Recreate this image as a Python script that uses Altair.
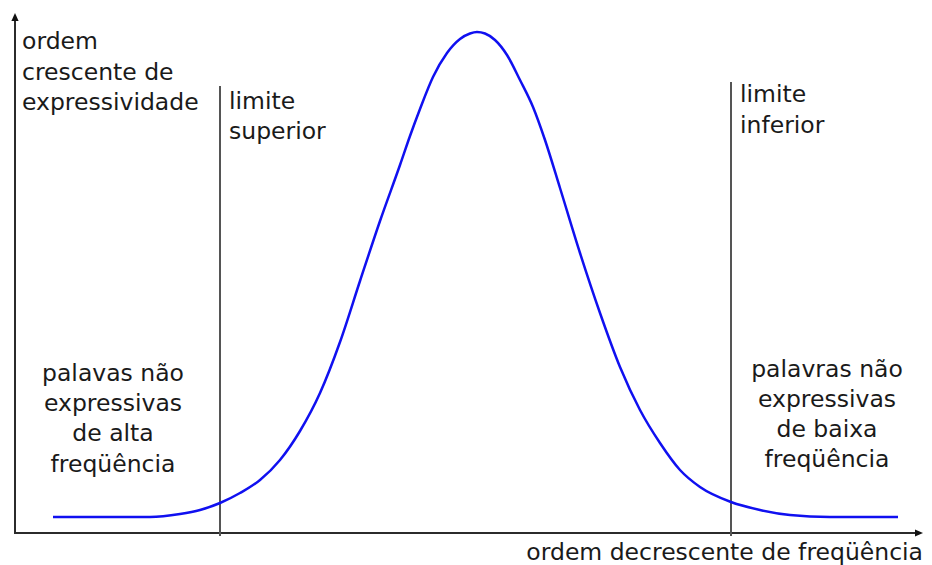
import altair as alt
import pandas as pd

# ---- data (axis units: origin at the axes corner) ----
curve_x = [38, 85, 135, 165, 185, 205, 225, 245, 265, 285,
           305, 325, 345, 365, 385, 395, 405, 418, 432, 445,
           455, 462, 470, 480, 492, 505, 518, 530, 545, 565,
           585, 605, 625, 645, 665, 685, 716, 745, 775, 815, 883]
curve_y = [16, 16, 16, 19, 23, 30, 40, 53, 73, 102,
           140, 191, 252, 312, 368, 397, 424, 456, 480, 494,
           499.5, 501, 499.5, 493, 478, 453, 426, 393, 345, 280,
           220, 166, 123, 90, 63, 46, 31, 23, 18, 16, 16]

limit_x = [205, 716]
limit_top = [447, 451]
limit_bottom = [-3, -3]

label_text = ["ordem", "crescente de", "expressividade",
              "limite", "superior",
              "limite", "inferior",
              "palavas não", "expressivas", "de alta", "freqüência",
              "palavras não", "expressivas", "de baixa", "freqüência",
              "ordem decrescente de freqüência"]
label_x = [7, 7, 7, 214, 214, 725, 725, 98, 98, 98, 98, 812, 812, 812, 812, 908]
label_y = [484, 453, 423, 424, 394, 431, 400, 152, 122, 92, 61, 156, 126, 96, 66, -27]
label_align = ["left"] * 7 + ["center"] * 8 + ["right"]

W, H = 916, 557
xdom = [-7, W - 7]
ydom = [525 - H, 525]
xs = alt.Scale(domain=xdom, nice=False, zero=False)
ys = alt.Scale(domain=ydom, nice=False, zero=False)

curve_df = pd.DataFrame({"x": curve_x, "y": curve_y})
limits_df = pd.DataFrame({"x": limit_x, "y": limit_bottom, "y2": limit_top})
labels_df = pd.DataFrame({"t": label_text, "x": label_x, "y": label_y, "a": label_align})
axes_df = pd.DataFrame({"x": [0, -1], "x2": [0, 905], "y": [-1, 0], "y2": [516, 0]})
arrows_df = pd.DataFrame({"x": [0], "y": [516]})
arrows_r_df = pd.DataFrame({"x": [904], "y": [0]})

base_enc = dict(x=alt.X("x:Q", scale=xs, axis=None), y=alt.Y("y:Q", scale=ys, axis=None))

axes = alt.Chart(axes_df).mark_rule(color="#2b2b2b", strokeWidth=2).encode(
    x=alt.X("x:Q", scale=xs, axis=None), x2="x2:Q",
    y=alt.Y("y:Q", scale=ys, axis=None), y2="y2:Q")

arrow_up = alt.Chart(arrows_df).mark_point(
    shape="M0,-1L0.9,1L-0.9,1Z", filled=True, color="#111", opacity=1, size=64
).encode(**base_enc)
arrow_right = alt.Chart(arrows_r_df).mark_point(
    shape="M1,0L-1,0.9L-1,-0.9Z", filled=True, color="#111", opacity=1, size=64
).encode(**base_enc)

limits = alt.Chart(limits_df).mark_rule(color="#555555", strokeWidth=2).encode(
    x=alt.X("x:Q", scale=xs, axis=None),
    y=alt.Y("y:Q", scale=ys, axis=None), y2="y2:Q")

curve = alt.Chart(curve_df).mark_line(
    color="#1010f0", strokeWidth=2.5, interpolate="monotone"
).encode(**base_enc)

def text_layer(align):
    d = labels_df[labels_df["a"] == align]
    return alt.Chart(d).mark_text(
        align=align, baseline="alphabetic", font="DejaVu Sans", fontSize=23.5,
        color="#1a1a1a"
    ).encode(x=alt.X("x:Q", scale=xs, axis=None),
             y=alt.Y("y:Q", scale=ys, axis=None), text="t:N")

chart = alt.layer(
    axes, limits, curve, arrow_up, arrow_right,
    text_layer("left"), text_layer("center"), text_layer("right")
).properties(
    width=W, height=H, padding=0,
    autosize=alt.AutoSizeParams(type="none"),
    background="white"
).configure_view(stroke=None)

chart.save("out.html", embed_options={"renderer": "svg", "actions": False})
